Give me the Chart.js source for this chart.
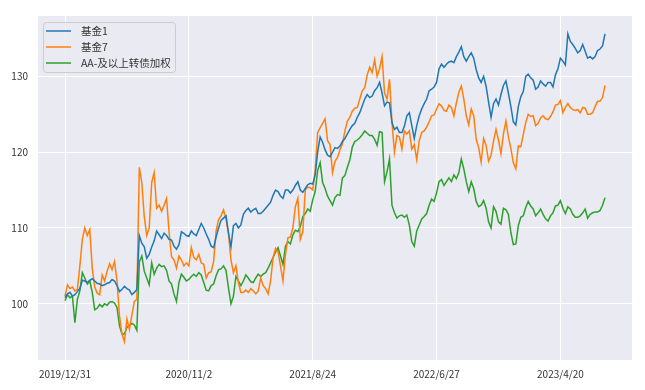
<!DOCTYPE html>
<html>
<head>
<meta charset="utf-8">
<script src="https://cdn.jsdelivr.net/npm/chart.js@4/dist/chart.umd.min.js"></script>
<style>
  html, body { margin: 0; padding: 0; background: #fff; }
  #wrap { width: 645px; height: 390px; }
</style>
</head>
<body>
<div id="wrap"><canvas id="chart"></canvas></div>
<script>
// one sample every 4 trading days, x = trading-day index from 2019/12/31
const STEP = 4;
const tickIdx = [0, 200, 400, 600, 800];
const tickLabels = ['2019/12/31', '2020/11/2', '2021/8/24', '2022/6/27', '2023/4/20'];
const yTicks = [100, 110, 120, 130];
const seriesNames = ['基金1', '基金7', 'AA-及以上转债加权'];
const seriesColors = ['#1f77b4', '#ff7f0e', '#2ca02c'];

const fund1 = [
  100.8, 101.3, 101.5, 101.0, 101.2, 101.6, 102.0, 103.1, 103.0, 102.8,
  103.1, 103.3, 103.0, 102.7, 102.6, 102.4, 102.5, 102.7, 102.8, 103.2,
  103.0, 102.4, 101.6, 101.9, 102.3, 102.0, 101.8, 101.2, 101.5, 101.9,
  109.0, 108.0, 107.5, 106.0, 106.5, 107.5, 108.3, 109.6, 109.1, 108.6,
  109.3, 109.0, 108.5, 108.4, 107.6, 107.2, 107.8, 109.5, 109.3, 109.0,
  108.9, 109.6, 109.2, 109.0, 109.8, 110.6, 110.0, 109.2, 108.5, 107.6,
  107.4, 108.8, 110.0, 111.0, 111.3, 111.6, 109.3, 107.5, 110.3, 110.6,
  110.0, 110.4, 111.8, 112.3, 112.6, 112.1, 112.4, 112.6, 111.9, 111.9,
  112.2, 112.6, 113.0, 113.4, 114.3, 115.0, 114.8, 114.2, 113.9, 115.0,
  115.0, 114.6, 115.0, 115.6, 116.1, 115.0, 114.7, 115.2, 115.7, 115.9,
  115.8, 117.0, 120.0, 122.0, 121.3, 120.3, 119.6, 119.4, 120.0, 120.6,
  120.5, 120.8, 121.4, 121.8, 122.4, 123.0, 123.5, 123.8, 124.6, 125.2,
  126.1, 127.0, 127.6, 127.2, 127.4, 128.1, 128.5, 129.2, 127.8, 126.1,
  126.6, 126.5, 123.9, 123.0, 123.3, 122.6, 122.6, 123.4, 124.8, 125.2,
  123.5, 121.8, 123.5, 124.8, 125.7, 126.4, 127.0, 128.1, 128.3, 128.6,
  129.2, 131.0, 131.6, 131.2, 131.6, 131.9, 132.0, 131.8, 132.6, 133.2,
  133.9, 132.6, 132.0, 132.6, 133.1, 132.4, 130.9, 129.8, 129.2, 130.0,
  128.7, 126.6, 124.6, 126.4, 127.0, 126.2, 127.6, 128.8, 129.4, 127.8,
  126.0, 124.0, 123.6, 126.0, 127.3, 128.0, 130.0, 130.3, 129.8, 129.5,
  128.3, 128.6, 129.4, 129.0, 128.7, 129.2, 129.2, 128.6, 130.2, 131.0,
  132.4, 132.0, 131.5, 135.6, 134.6, 134.2, 133.7, 133.1, 133.4, 134.2,
  133.3, 132.4, 132.6, 132.3, 132.6, 133.4, 133.6, 134.0, 135.6
];
const fund7 = [
  101.0, 102.5, 102.0, 102.2, 101.7, 101.9, 105.0, 108.5, 110.0, 109.0,
  109.8, 104.7, 102.2, 101.4, 101.2, 103.8, 103.0, 104.3, 105.3, 104.5,
  105.6, 103.0, 98.4, 96.0, 95.0, 98.0, 96.6, 98.5, 100.3, 100.6,
  118.0, 116.0, 111.5, 109.0, 110.0, 116.0, 117.3, 112.6, 113.0, 112.2,
  113.0, 113.9, 109.5, 106.2, 105.8, 104.7, 106.3, 105.8, 105.0, 105.4,
  105.0, 107.4, 106.1, 105.8, 106.5, 105.4, 105.2, 103.4, 104.1, 104.2,
  105.6, 109.6, 111.1, 111.6, 112.4, 111.2, 109.3, 105.8, 104.1, 105.0,
  102.8, 101.5, 101.5, 101.8, 101.5, 102.0, 101.7, 101.3, 101.7, 103.4,
  102.4, 102.0, 101.3, 103.0, 106.1, 107.3, 106.9, 105.0, 103.0, 106.5,
  108.7, 108.8, 110.0, 112.8, 113.9, 108.5, 109.5, 115.0, 115.4, 115.3,
  115.0, 117.5, 122.6, 123.2, 123.8, 124.4, 121.5, 121.0, 117.3, 118.8,
  119.3, 120.3, 121.1, 122.8, 124.1, 124.6, 125.4, 125.8, 125.9, 127.0,
  128.1, 128.5, 130.2, 131.2, 130.5, 132.2, 130.0, 131.0, 132.6, 127.8,
  127.0, 129.6, 124.0, 120.0, 122.2, 122.0, 120.4, 122.8, 122.4, 122.8,
  120.4, 121.0, 119.0, 121.5, 122.6, 122.8, 123.3, 124.0, 124.8, 124.9,
  125.7, 126.4, 126.1, 125.5, 125.4, 126.2, 125.9, 124.8, 126.5, 127.9,
  128.7, 127.0, 124.8, 123.6, 125.7, 124.8, 121.7, 120.6, 118.7, 121.8,
  120.9, 118.8, 119.6, 121.5, 123.0, 121.6, 119.8, 122.4, 124.1, 122.0,
  120.5, 118.6, 117.8, 120.8, 120.7, 122.3, 123.9, 125.0, 124.7, 124.8,
  123.5, 123.8, 124.5, 124.8, 124.4, 124.3, 124.7, 125.3, 126.2, 126.3,
  126.8, 125.2, 125.9, 126.4, 125.9, 125.6, 125.5, 125.6, 125.2, 125.9,
  125.8, 125.0, 125.0, 125.2, 126.0, 126.7, 126.7, 127.2, 128.8
];
const aaIndex = [
  100.4, 101.2, 100.8, 101.0, 97.5, 100.6, 101.7, 104.1, 103.4, 102.6,
  103.0, 101.5, 99.2, 99.4, 99.9, 99.6, 100.0, 99.8, 100.2, 100.3,
  100.1, 99.5, 97.1, 96.0, 96.0, 96.9, 97.1, 97.4, 97.2, 96.5,
  105.5, 106.3, 104.3, 103.4, 102.5, 105.4, 103.9, 104.7, 105.2, 104.9,
  105.0, 104.4, 103.0, 102.6, 101.3, 100.3, 102.8, 103.9, 103.5, 103.0,
  103.2, 103.6, 103.9, 103.6, 104.1, 103.8, 102.8, 101.8, 101.7, 102.4,
  102.6, 103.7, 104.5, 104.6, 105.0, 104.4, 102.1, 100.0, 101.0, 103.6,
  103.0, 102.4, 103.0, 103.8, 103.4, 102.9, 102.8, 103.4, 103.9, 103.6,
  103.9, 104.1, 104.7, 105.4, 106.1, 106.8, 107.4, 106.3, 105.2, 107.6,
  108.2, 107.9, 109.1, 109.7, 109.5, 110.2, 111.5, 111.9, 112.5, 112.2,
  113.7, 114.8, 117.6, 118.6, 116.0, 115.2, 114.2, 113.6, 113.0, 114.0,
  114.4, 114.3, 116.6, 116.9, 118.0, 119.0, 120.7, 121.4, 121.6, 121.9,
  122.3, 122.8, 122.5, 122.2, 122.2, 121.7, 120.9, 122.7, 122.6, 116.1,
  117.4, 119.1, 113.0, 112.0, 111.3, 111.6, 111.7, 111.4, 111.7, 110.4,
  108.2, 107.6, 109.6, 110.4, 111.2, 111.5, 111.9, 113.0, 113.8, 113.5,
  114.6, 116.1, 116.4, 115.6, 116.1, 116.6, 116.1, 117.0, 116.5, 117.3,
  119.1, 117.8, 116.1, 114.8, 116.1, 115.2, 113.5, 112.8, 113.0, 113.6,
  112.6, 110.8, 110.0, 112.8, 112.2, 110.8, 110.5, 112.6, 112.4, 111.8,
  109.4, 107.8, 107.9, 110.3, 111.4, 111.6, 112.7, 113.5, 112.9, 112.5,
  111.6, 112.0, 112.5, 111.8, 111.2, 110.9, 111.6, 112.0, 112.9, 113.0,
  113.6, 112.6, 111.9, 112.8, 112.5, 111.8, 111.4, 111.4, 111.6, 112.0,
  112.5, 111.3, 111.8, 112.0, 112.1, 112.1, 112.3, 113.0, 114.0
];

const FONT = '"Noto Sans CJK SC", "Noto Sans", sans-serif';
const TEXT = '#333333';

function toPoints(values) {
    return values.map((v, i) => ({ x: i * STEP, y: v }));
}

// seaborn darkgrid background
const bgPlugin = {
    id: 'bg',
    beforeDraw(chart) {
        const { ctx, chartArea: a } = chart;
        ctx.save();
        ctx.fillStyle = '#ffffff';
        ctx.fillRect(0, 0, chart.width, chart.height);
        ctx.fillStyle = '#eaeaf2';
        ctx.fillRect(a.left, a.top, a.right - a.left, a.bottom - a.top);
        ctx.restore();
    }
};

// matplotlib-like legend box in the upper left corner
const legendPlugin = {
    id: 'mplLegend',
    afterDatasetsDraw(chart) {
        const { ctx, chartArea: a } = chart;
        const x = a.left + 5, y = a.top + 6, w = 132, h = 50;
        ctx.save();
        ctx.beginPath();
        ctx.roundRect(x + 0.5, y + 0.5, w, h, 3);
        ctx.fillStyle = 'rgba(234,234,242,0.8)';
        ctx.fill();
        ctx.strokeStyle = '#cccccc';
        ctx.lineWidth = 1;
        ctx.stroke();
        ctx.font = '10.5px ' + FONT;
        ctx.textBaseline = 'middle';
        chart.data.datasets.forEach((ds, i) => {
            const ry = y + 9 + i * 16;
            ctx.beginPath();
            ctx.moveTo(x + 3, ry);
            ctx.lineTo(x + 28, ry);
            ctx.strokeStyle = ds.borderColor;
            ctx.lineWidth = 1.5;
            ctx.stroke();
            ctx.fillStyle = TEXT;
            ctx.fillText(ds.label, x + 38, ry);
        });
        ctx.restore();
    }
};

const datasets = [fund1, fund7, aaIndex].map((vals, i) => ({
    label: seriesNames[i],
    data: toPoints(vals),
    borderColor: seriesColors[i],
    backgroundColor: seriesColors[i],
    borderWidth: 1.5,
    pointRadius: 0,
    tension: 0,
    fill: false
}));

new Chart(document.getElementById('chart'), {
    type: 'line',
    data: { datasets: datasets },
    options: {
        responsive: true,
        maintainAspectRatio: false,
        animation: false,
        devicePixelRatio: 1,
        layout: { padding: { top: 12, right: 13, left: 0, bottom: 0 } },
        plugins: {
            legend: { display: false },
            tooltip: { enabled: false }
        },
        scales: {
            x: {
                type: 'linear',
                min: -43.6,
                max: 915.6,
                afterBuildTicks: s => { s.ticks = tickIdx.map(v => ({ value: v })); },
                afterFit: s => { s.height = 30; },
                grid: { color: '#ffffff', lineWidth: 1, drawTicks: false },
                border: { display: false },
                ticks: {
                    padding: 8,
                    color: TEXT,
                    font: { family: FONT, size: 10 },
                    maxRotation: 0,
                    autoSkip: false,
                    callback: v => tickLabels[tickIdx.indexOf(v)]
                }
            },
            y: {
                min: 92.58,
                max: 137.96,
                afterBuildTicks: s => { s.ticks = yTicks.map(v => ({ value: v })); },
                afterFit: s => { s.width = 38; },
                grid: { color: '#ffffff', lineWidth: 1, drawTicks: false },
                border: { display: false },
                ticks: {
                    padding: 10,
                    color: TEXT,
                    font: { family: FONT, size: 10 }
                }
            }
        }
    },
    plugins: [bgPlugin, legendPlugin]
});
</script>
</body>
</html>
